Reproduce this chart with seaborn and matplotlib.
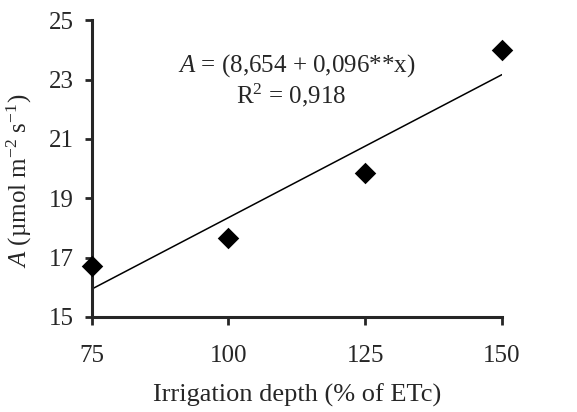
import numpy as np
import pandas as pd
import matplotlib
matplotlib.use("Agg")
import matplotlib.pyplot as plt
import seaborn as sns

# dados
irrigacao = [75, 100, 125, 150]
fotossintese = [16.7, 17.65, 19.85, 24.0]
xticks = [75, 100, 125, 150]
yticks = [15, 17, 19, 21, 23, 25]

df = pd.DataFrame({"irrigacao": irrigacao, "A": fotossintese})

sns.set_style("ticks")
plt.rcParams["font.family"] = ["Liberation Serif", "DejaVu Serif"]
plt.rcParams["mathtext.fontset"] = "custom"
plt.rcParams["mathtext.rm"] = "Liberation Serif"
plt.rcParams["mathtext.it"] = "Liberation Serif:italic"

fig = plt.figure(figsize=(5.77, 4.12), dpi=100)
ax = fig.add_axes([0.159, 0.231, 0.711, 0.72])

sns.regplot(data=df, x="irrigacao", y="A", ci=None, ax=ax,
            marker="D", color="black",
            scatter_kws={"s": 120, "alpha": 1, "linewidths": 0,
                         "clip_on": False, "zorder": 3},
            line_kws={"linewidth": 1.1, "color": "black"})

ax.set_xlim(75, 150)
ax.set_ylim(15, 25)
ax.set_xticks(xticks)
ax.set_yticks(yticks)
ax.tick_params(labelsize=18, width=2, length=5, direction="out")
ax.tick_params(axis="x", pad=14, length=6)
ax.tick_params(axis="y", pad=8)
for s in ["left", "bottom"]:
    ax.spines[s].set_linewidth(2.2)
sns.despine(ax=ax)

ax.set_xlabel("Irrigation depth (% of ETc)", fontsize=19, labelpad=12)
ax.set_ylabel(r"$\mathit{A}$ (µmol m$^{\mathrm{-2}}$ s$^{\mathrm{-1}}$)", fontsize=18)
ax.yaxis.set_label_coords(-0.14, 0.46)

ax.text(0.50, 0.848, r"$\mathit{A}$ = (8,654 + 0,096**x)", transform=ax.transAxes,
        ha="center", va="center", fontsize=18)
ax.text(0.485, 0.747, r"R$^{2}$ = 0,918", transform=ax.transAxes,
        ha="center", va="center", fontsize=18)

fig.savefig("out.png", dpi=100)
